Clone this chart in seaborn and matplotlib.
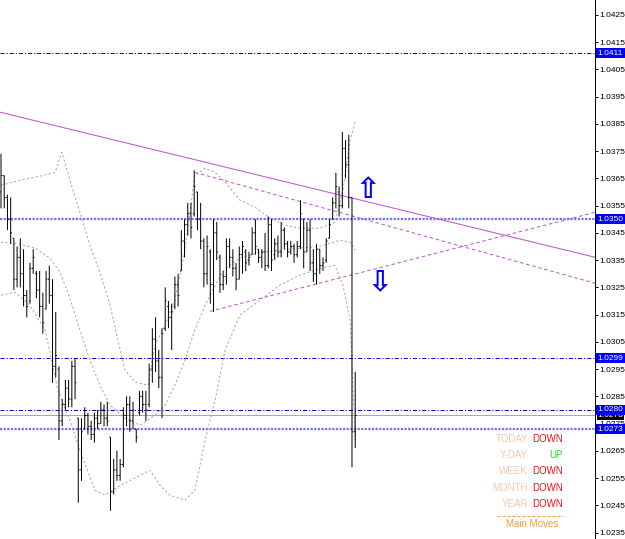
import numpy as np
import pandas as pd
import matplotlib
matplotlib.use("Agg")
import matplotlib.pyplot as plt
import matplotlib.transforms as mtransforms
from matplotlib.lines import Line2D
import seaborn as sns

# ---------------- data (prices) ----------------
highs = [1.0374, 1.0366, 1.0359, 1.0358, 1.0343, 1.0340, 1.0343, 1.0339, 1.0324, 1.0334,
         1.0339, 1.0331, 1.0331, 1.0323, 1.0331, 1.0333, 1.0328, 1.0316, 1.0296, 1.0284,
         1.0291, 1.0291, 1.0298, 1.0299, 1.0277, 1.0277, 1.0281, 1.0279, 1.0276, 1.0279,
         1.0280, 1.0283, 1.0282, 1.0283, 1.0270, 1.0262, 1.0265, 1.0262, 1.0281, 1.0285,
         1.0285, 1.0283, 1.0273, 1.0287, 1.0287, 1.0287, 1.0297, 1.0310, 1.0314, 1.0302,
         1.0310, 1.0325, 1.0320, 1.0319, 1.0329, 1.0330, 1.0346, 1.0350, 1.0356, 1.0356,
         1.0368, 1.0360, 1.0356, 1.0343, 1.0344, 1.0339, 1.0350, 1.0349, 1.0337, 1.0331,
         1.0343, 1.0343, 1.0339, 1.0334, 1.0340, 1.0342, 1.0339, 1.0338, 1.0347, 1.0350,
         1.0339, 1.0339, 1.0345, 1.0351, 1.0350, 1.0343, 1.0344, 1.0349, 1.0347, 1.0342,
         1.0342, 1.0341, 1.0342, 1.0357, 1.0350, 1.0349, 1.0350, 1.0339, 1.0341, 1.0339,
         1.0336, 1.0343, 1.0350, 1.0358, 1.0367, 1.0362, 1.0382, 1.0379, 1.0381, 1.0358,
         1.0294]
lows = [1.0354, 1.0354, 1.0346, 1.0341, 1.0324, 1.0325, 1.0325, 1.0318, 1.0314, 1.0319,
        1.0330, 1.0321, 1.0314, 1.0308, 1.0317, 1.0319, 1.0290, 1.0292, 1.0269, 1.0274,
        1.0280, 1.0281, 1.0281, 1.0284, 1.0246, 1.0254, 1.0273, 1.0271, 1.0269, 1.0268,
        1.0273, 1.0275, 1.0274, 1.0274, 1.0243, 1.0249, 1.0254, 1.0254, 1.0259, 1.0274,
        1.0272, 1.0273, 1.0268, 1.0278, 1.0279, 1.0276, 1.0281, 1.0290, 1.0294, 1.0288,
        1.0277, 1.0309, 1.0310, 1.0302, 1.0317, 1.0318, 1.0331, 1.0336, 1.0344, 1.0343,
        1.0351, 1.0346, 1.0339, 1.0325, 1.0326, 1.0319, 1.0316, 1.0335, 1.0323, 1.0324,
        1.0326, 1.0332, 1.0329, 1.0324, 1.0328, 1.0330, 1.0331, 1.0333, 1.0337, 1.0337,
        1.0334, 1.0332, 1.0331, 1.0332, 1.0331, 1.0335, 1.0336, 1.0336, 1.0339, 1.0336,
        1.0337, 1.0334, 1.0336, 1.0339, 1.0332, 1.0338, 1.0331, 1.0327, 1.0326, 1.0330,
        1.0331, 1.0334, 1.0343, 1.0350, 1.0354, 1.0351, 1.0354, 1.0365, 1.0354, 1.0259,
        1.0266]
opens = [1.0360, 1.0366, 1.0358, 1.0350, 1.0343, 1.0328, 1.0336, 1.0330, 1.0322, 1.0320,
         1.0332, 1.0330, 1.0324, 1.0318, 1.0317, 1.0328, 1.0322, 1.0296, 1.0295, 1.0276,
         1.0282, 1.0288, 1.0284, 1.0296, 1.0277, 1.0258, 1.0273, 1.0278, 1.0274, 1.0271,
         1.0277, 1.0275, 1.0280, 1.0277, 1.0270, 1.0250, 1.0258, 1.0256, 1.0260, 1.0278,
         1.0282, 1.0276, 1.0273, 1.0279, 1.0285, 1.0282, 1.0282, 1.0295, 1.0306, 1.0298,
         1.0292, 1.0310, 1.0318, 1.0314, 1.0318, 1.0326, 1.0331, 1.0342, 1.0348, 1.0352,
         1.0352, 1.0360, 1.0350, 1.0342, 1.0330, 1.0338, 1.0326, 1.0345, 1.0336, 1.0326,
         1.0329, 1.0340, 1.0336, 1.0332, 1.0328, 1.0337, 1.0338, 1.0335, 1.0337, 1.0345,
         1.0339, 1.0336, 1.0338, 1.0333, 1.0348, 1.0337, 1.0341, 1.0338, 1.0346, 1.0341,
         1.0338, 1.0340, 1.0337, 1.0340, 1.0350, 1.0338, 1.0346, 1.0334, 1.0330, 1.0339,
         1.0333, 1.0335, 1.0343, 1.0350, 1.0356, 1.0360, 1.0355, 1.0376, 1.0370, 1.0358,
         1.0272]
closes = [1.0366, 1.0358, 1.0350, 1.0345, 1.0328, 1.0336, 1.0330, 1.0322, 1.0318, 1.0332,
          1.0336, 1.0324, 1.0318, 1.0312, 1.0328, 1.0322, 1.0296, 1.0300, 1.0276, 1.0282,
          1.0288, 1.0284, 1.0296, 1.0290, 1.0258, 1.0272, 1.0278, 1.0274, 1.0271, 1.0277,
          1.0275, 1.0280, 1.0277, 1.0276, 1.0250, 1.0258, 1.0256, 1.0260, 1.0278, 1.0282,
          1.0276, 1.0280, 1.0270, 1.0285, 1.0282, 1.0280, 1.0295, 1.0306, 1.0298, 1.0292,
          1.0308, 1.0320, 1.0314, 1.0316, 1.0326, 1.0322, 1.0342, 1.0348, 1.0352, 1.0347,
          1.0362, 1.0350, 1.0342, 1.0330, 1.0340, 1.0326, 1.0345, 1.0338, 1.0326, 1.0329,
          1.0340, 1.0336, 1.0332, 1.0328, 1.0337, 1.0340, 1.0334, 1.0336, 1.0345, 1.0340,
          1.0336, 1.0338, 1.0333, 1.0348, 1.0335, 1.0341, 1.0338, 1.0346, 1.0341, 1.0338,
          1.0340, 1.0337, 1.0340, 1.0352, 1.0338, 1.0346, 1.0334, 1.0330, 1.0339, 1.0333,
          1.0334, 1.0342, 1.0348, 1.0356, 1.0362, 1.0355, 1.0376, 1.0370, 1.0358, 1.0272,
          1.0278]

# Bollinger bands at selected bar positions
upper_idx = [0, 5.9, 12.1, 16.8, 18.9, 21.4, 24.5, 27.6, 30.7, 33.9, 36.3, 38.5, 41.6,
             45.7, 47.8, 50.9, 54.0, 57.1, 60.2, 63.4, 66.5, 69.6, 74.2, 78.9, 83.5,
             88.2, 92.9, 99.1, 103.7, 106.2, 108.4, 110]
upper_band = [1.03625, 1.03643, 1.03658, 1.03672, 1.03746, 1.03643, 1.03526, 1.03405,
              1.03306, 1.03184, 1.03056, 1.02946, 1.02902, 1.02891, 1.03038, 1.03111,
              1.03203, 1.03386, 1.03661, 1.03687, 1.03672, 1.03636, 1.03570, 1.03544,
              1.03504, 1.03478, 1.03467, 1.03467, 1.03489, 1.03606, 1.03790, 1.03856]
mid_idx = [0, 5.9, 10.6, 15.2, 18.3, 21.4, 24.5, 27.6, 30.7, 33.9, 38.5, 43.2, 47.8,
           50.9, 54.0, 57.1, 60.2, 63.4, 66.5, 69.6, 74.2, 80.4, 86.6, 92.9, 99.1,
           105.3, 108.4, 110]
mid_band = [1.03416, 1.03408, 1.03394, 1.03357, 1.03306, 1.03210, 1.03093, 1.02983,
            1.02891, 1.02817, 1.02770, 1.02744, 1.02781, 1.02817, 1.02891, 1.02983,
            1.03093, 1.03184, 1.03258, 1.03320, 1.03357, 1.03379, 1.03386, 1.03394,
            1.03401, 1.03423, 1.03416, 1.03386]
lower_idx = [0, 4.3, 9.0, 13.7, 17.7, 21.4, 24.5, 29.2, 32.3, 37.0, 43.2, 46.3, 49.4,
             52.5, 57.1, 60.2, 63.4, 66.5, 69.6, 74.2, 80.4, 86.6, 92.9, 99.1, 103.7,
             106.2, 108.4, 110]
lower_band = [1.03221, 1.03232, 1.03184, 1.03093, 1.02872, 1.02762, 1.02652, 1.02505,
              1.02487, 1.02523, 1.02560, 1.02579, 1.02523, 1.02487, 1.02469, 1.02505,
              1.02689, 1.02836, 1.03020, 1.03148, 1.03203, 1.03258, 1.03295, 1.03320,
              1.03331, 1.03258, 1.03129, 1.02689]

tick_prices = [1.0425, 1.0415, 1.0405, 1.0395, 1.0385, 1.0375, 1.0365, 1.0355, 1.0345,
               1.0335, 1.0325, 1.0315, 1.0305, 1.0295, 1.0285, 1.0275, 1.0265, 1.0255,
               1.0245, 1.0235]
level_prices = [1.0411, 1.0350, 1.0299, 1.0280, 1.0273]
bid_price = 1.0278

trend_solid = [(0.0, 1.03892), (110.0, 1.03575)]
trend_upper = [(60.2, 1.03672), (110.0, 1.03509)]
trend_lower = [(64.9, 1.03162), (110.0, 1.03299)]

arrow_up = (114.0, 1.03606)
arrow_down = (117.7, 1.03269)

summary_names = ["TODAY", "Y-DAY", "WEEK", "MONTH", "YEAR"]
summary_moves = ["DOWN", "UP", "DOWN", "DOWN", "DOWN"]
summary_title = "Main Moves"

# ---------------- figure ----------------
sns.set_style("white")
plt.rcParams["lines.scale_dashes"] = False
plt.rcParams["font.family"] = ["Liberation Sans", "DejaVu Sans"]

W, H = 625, 539
fig = plt.figure(figsize=(W / 100, H / 100), dpi=100)
fig.patch.set_facecolor("white")
ax = fig.add_axes([0, 0, 595 / W, 1])
ax.set_facecolor("white")

xmin, xmax = -0.31, 184.47
ax.set_xlim(xmin, xmax)
ax.set_ylim(1.023265, 1.043045)

PX = 0.72  # one pixel in points

# horizontal levels
lvl_styles = {
    1.0411: dict(color="#0000ff", lw=PX, ls=(0, (3.0, 1.4, 0.8, 1.4))),
    1.0350: dict(color="#7070ff", lw=1.6, ls=(0, (1.6, 1.0))),
    1.0299: dict(color="#0000ff", lw=PX, ls=(0, (3.0, 1.4, 0.8, 1.4))),
    1.0280: dict(color="#0000c8", lw=PX, ls=(0, (3.0, 1.4, 0.8, 1.4))),
    1.0273: dict(color="#7070ff", lw=1.6, ls=(0, (1.6, 1.0))),
}
for p in level_prices:
    st = lvl_styles[p]
    ax.axhline(p, color=st["color"], lw=st["lw"], linestyle=st["ls"], zorder=1)
ax.axhline(bid_price, color="#a8a8a8", lw=PX, zorder=1)

# bollinger bands (seaborn)
band_kw = dict(color="#a8a8a8", lw=PX, linestyle=(0, (1.6, 1.6)), zorder=2)
sns.lineplot(x=upper_idx, y=upper_band, ax=ax, **band_kw)
sns.lineplot(x=mid_idx, y=mid_band, ax=ax, **band_kw)
sns.lineplot(x=lower_idx, y=lower_band, ax=ax, **band_kw)

# trend lines
tcol = "#c050d0"
def ray(a, b, start=None):
    (x1, y1), (x2, y2) = a, b
    slope = (y2 - y1) / (x2 - x1)
    xs = np.array([x1 if start is None else start, xmax])
    return xs, y1 + slope * (xs - x1)

xs, ys = ray(*trend_solid, start=xmin)
ax.plot(xs, ys, color=tcol, lw=PX, zorder=3)
xs, ys = ray(*trend_upper)
ax.plot(xs, ys, color=tcol, lw=PX, linestyle=(0, (2.5, 2.0)), zorder=3)
xs, ys = ray(*trend_lower)
ax.plot(xs, ys, color=tcol, lw=PX, linestyle=(0, (2.5, 2.0)), zorder=3)

# OHLC bars
idx = np.arange(len(highs))
ax.vlines(idx, lows, highs, colors="black", lw=PX, snap=False, zorder=4)
ax.hlines(opens, idx - 0.4, idx, colors="black", lw=PX, snap=False, zorder=4)
ax.hlines(closes, idx, idx + 0.4, colors="black", lw=PX, snap=False, zorder=4)

# arrows
for (ax_x, ax_y), ch in [(arrow_up, "\u21e7"), (arrow_down, "\u21e9")]:
    ax.text(ax_x, ax_y, ch, color="#0000ff", fontsize=21, fontweight="bold",
            ha="center", va="center", family="DejaVu Sans", zorder=5)

# right price axis
for s in ["top", "left", "bottom"]:
    ax.spines[s].set_visible(False)
ax.spines["right"].set_color("black")
ax.spines["right"].set_linewidth(PX)
ax.set_xticks([])
ax.yaxis.tick_right()
ax.set_yticks(tick_prices)
ax.set_yticklabels([f"{t:.4f}" for t in tick_prices])
ax.tick_params(axis="y", direction="out", length=2.2, width=PX, pad=0.6,
               labelsize=6.0, colors="black")

trans = mtransforms.blended_transform_factory(ax.transAxes, ax.transData)
box_x = 1 + 2.5 / 595
for p in level_prices:
    ax.text(box_x, p, f"{p:.4f}", transform=trans, ha="left", va="center",
            fontsize=6.0, color="white", clip_on=False, zorder=10,
            bbox=dict(boxstyle="square,pad=0.2", fc="#0000ff", ec="none"))
ax.text(box_x, bid_price, f"{bid_price:.4f}", transform=trans, ha="left",
        va="center", fontsize=6.0, color="white", clip_on=False, zorder=9,
        bbox=dict(boxstyle="square,pad=0.1", fc="black", ec="none"))

# summary panel (bottom right)
def fpos(x, y):
    return x / W, 1 - y / H

peach = "#f5c9a9"
red = "#ee1111"
green = "#22dd22"
orange = "#ff9a33"
rows_y = [439, 455, 471, 488, 504]
for name, move, y in zip(summary_names, summary_moves, rows_y):
    fig.text(*fpos(528, y), name, color=peach, fontsize=7, ha="right", va="center")
    fig.text(*fpos(563, y), move, color=red if move == "DOWN" else green,
             fontsize=7, ha="right", va="center")
fig.add_artist(Line2D([497 / W, 563 / W], [1 - 516 / H] * 2, transform=fig.transFigure,
                      color=orange, lw=PX, linestyle=(0, (2.2, 1.4))))
fig.text(*fpos(532, 524), summary_title, color=orange, fontsize=7, ha="center", va="center")

fig.savefig("out.png", dpi=100, facecolor="white")
